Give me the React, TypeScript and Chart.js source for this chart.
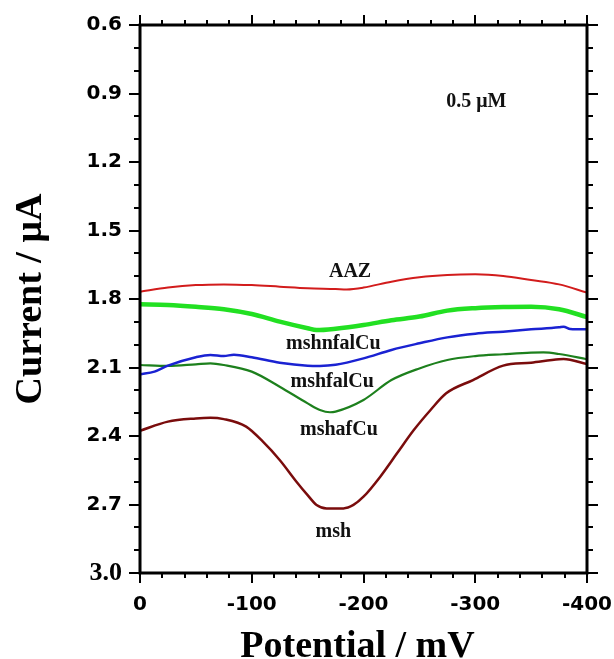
import React, { useEffect, useRef } from "react";
import { Chart, registerables } from "chart.js";

Chart.register(...registerables);

// Axis ticks (potential in mV, current in µA)
const potentialTicks = [0, -100, -200, -300, -400];
const currentTicks = [0.6, 0.9, 1.2, 1.5, 1.8, 2.1, 2.4, 2.7, 3.0];
const potentialMinorStep = 20;
const currentMinorStep = 0.1;

// AAZ
const aazPotential = [0, -25, -50, -75, -100, -125, -150, -175, -185, -200, -225, -250, -275, -300, -325, -350, -375, -400];
const aazCurrent = [1.768, 1.75, 1.739, 1.736, 1.739, 1.746, 1.753, 1.756, 1.758, 1.75, 1.724, 1.705, 1.695, 1.692, 1.699, 1.717, 1.736, 1.772];

// mshnfalCu
const mshnfalCuPotential = [0, -25, -50, -75, -100, -125, -150, -158, -175, -200, -225, -250, -275, -300, -325, -350, -375, -400];
const mshnfalCuCurrent = [1.823, 1.826, 1.834, 1.845, 1.866, 1.899, 1.928, 1.936, 1.93, 1.914, 1.893, 1.877, 1.851, 1.84, 1.835, 1.834, 1.845, 1.879];

// mshfalCu
const mshfalCuPotential = [0, -13, -25, -50, -63, -75, -84, -100, -125, -150, -161, -175, -200, -225, -250, -275, -300, -325, -350, -375, -379, -385, -400];
const mshfalCuCurrent = [2.13, 2.118, 2.092, 2.055, 2.045, 2.05, 2.044, 2.055, 2.079, 2.092, 2.093, 2.088, 2.06, 2.023, 1.994, 1.968, 1.952, 1.943, 1.933, 1.924, 1.921, 1.931, 1.933];

// mshafCu
const mshafCuPotential = [0, -25, -50, -63, -75, -100, -125, -150, -161, -170, -175, -200, -225, -250, -275, -300, -325, -350, -361, -375, -400];
const mshafCuCurrent = [2.089, 2.093, 2.086, 2.082, 2.089, 2.118, 2.184, 2.257, 2.286, 2.296, 2.293, 2.242, 2.155, 2.104, 2.067, 2.05, 2.042, 2.035, 2.034, 2.041, 2.064];

// msh
const mshPotential = [0, -25, -50, -63, -75, -95, -110, -125, -140, -150, -158, -167, -182, -191, -200, -215, -230, -245, -260, -274, -298, -325, -350, -375, -379, -400];
const mshCurrent = [2.377, 2.337, 2.323, 2.32, 2.326, 2.359, 2.425, 2.505, 2.6, 2.659, 2.702, 2.717, 2.717, 2.702, 2.666, 2.578, 2.476, 2.374, 2.286, 2.213, 2.155, 2.092, 2.079, 2.064, 2.063, 2.085];

// Curve labels placed beside the curves (baseline position in data units)
const curveLabels = ["AAZ", "mshnfalCu", "mshfalCu", "mshafCu", "msh", "0.5 μM"];
const curveLabelPotential = [-188, -173, -172, -178, -173, -301];
const curveLabelCurrent = [1.704, 2.019, 2.186, 2.396, 2.843, 0.959];

const xTitle = "Potential / mV";
const yTitle = "Current / μA";

const toPoints = (xs: number[], ys: number[]) => xs.map((x, i) => ({ x, y: ys[i] }));

const SERIF = "'Liberation Serif', 'Times New Roman', serif";
const SANS = "'DejaVu Sans', sans-serif";

const framePlugin = {
  id: "frameAndText",
  afterDraw(chart: any) {
    const { ctx, chartArea: a, scales } = chart;
    const xs = scales.x;
    const ys = scales.y;
    ctx.save();
    ctx.strokeStyle = "#000";
    ctx.lineCap = "butt";

    // minor and major tick marks, outward on all four sides
    ctx.lineWidth = 2;
    for (let v = 0; v >= -400; v -= potentialMinorStep) {
      const px = Math.round(xs.getPixelForValue(v));
      const major = potentialTicks.includes(v);
      const len = major ? 10 : 5;
      ctx.beginPath();
      ctx.moveTo(px, a.top);
      ctx.lineTo(px, a.top - len);
      ctx.moveTo(px, a.bottom);
      ctx.lineTo(px, a.bottom + len);
      ctx.stroke();
    }
    for (let k = 0; k <= 24; k++) {
      const v = 0.6 + k * currentMinorStep;
      const py = Math.round(ys.getPixelForValue(v));
      const major = k % 3 === 0;
      const len = major ? 11 : 6;
      ctx.beginPath();
      ctx.moveTo(a.left, py);
      ctx.lineTo(a.left - len, py);
      ctx.moveTo(a.right, py);
      ctx.lineTo(a.right + len, py);
      ctx.stroke();
    }

    // frame
    ctx.lineWidth = 3;
    ctx.strokeRect(a.left, a.top, a.right - a.left, a.bottom - a.top);

    // curve labels
    ctx.fillStyle = "#111";
    ctx.font = `bold 20px ${SERIF}`;
    ctx.textAlign = "center";
    ctx.textBaseline = "alphabetic";
    curveLabels.forEach((t, i) => {
      ctx.fillText(t, xs.getPixelForValue(curveLabelPotential[i]), ys.getPixelForValue(curveLabelCurrent[i]));
    });

    // axis titles
    ctx.fillStyle = "#000";
    ctx.font = `bold 38px ${SERIF}`;
    ctx.fillText(xTitle, (a.left + a.right) / 2 - 6, a.bottom + 84);
    ctx.translate(41, (a.top + a.bottom) / 2);
    ctx.rotate(-Math.PI / 2);
    ctx.fillText(yTitle, 0, 0);
    ctx.restore();
  },
};

export default function App() {
  const ref = useRef<HTMLCanvasElement | null>(null);

  useEffect(() => {
    document.body.style.margin = "0";
    const canvas = ref.current;
    if (!canvas) return;
    const chart = new Chart(canvas, {
      type: "line",
      data: {
        datasets: [
          { label: "AAZ", data: toPoints(aazPotential, aazCurrent), borderColor: "#d21c1c", borderWidth: 2 },
          { label: "mshnfalCu", data: toPoints(mshnfalCuPotential, mshnfalCuCurrent), borderColor: "#22e022", borderWidth: 4.5 },
          { label: "mshfalCu", data: toPoints(mshfalCuPotential, mshfalCuCurrent), borderColor: "#1a22d2", borderWidth: 2.5 },
          { label: "mshafCu", data: toPoints(mshafCuPotential, mshafCuCurrent), borderColor: "#1d801d", borderWidth: 2.2 },
          { label: "msh", data: toPoints(mshPotential, mshCurrent), borderColor: "#7a0c0c", borderWidth: 2.5 },
        ].map((d) => ({ ...d, pointRadius: 0, cubicInterpolationMode: "monotone", fill: false })),
      },
      options: {
        responsive: false,
        animation: false,
        events: [],
        layout: { padding: { left: 0, right: 27, top: 25, bottom: 0 } },
        plugins: { legend: { display: false }, tooltip: { enabled: false } },
        scales: {
          x: {
            type: "linear",
            min: -400,
            max: 0,
            reverse: true,
            grid: { display: false },
            border: { display: false },
            afterBuildTicks: (s: any) => {
              s.ticks = potentialTicks.map((value) => ({ value }));
            },
            afterFit: (s: any) => {
              s.height = 86;
              s.paddingLeft = 0;
              s.paddingRight = 0;
            },
            ticks: {
              color: "#000",
              padding: 12,
              maxRotation: 0,
              autoSkip: false,
              font: { family: SANS, size: 20, weight: "bold" },
              callback: (v: any) => String(v),
            },
          },
          y: {
            type: "linear",
            min: 0.6,
            max: 3.0,
            reverse: true,
            grid: { display: false },
            border: { display: false },
            afterBuildTicks: (s: any) => {
              s.ticks = currentTicks.map((value) => ({ value }));
            },
            afterFit: (s: any) => {
              s.width = 140;
              s.paddingTop = 0;
              s.paddingBottom = 0;
            },
            ticks: {
              color: "#000",
              padding: 10,
              autoSkip: false,
              font: (c: any) =>
                c.tick && Math.abs(c.tick.value - 3.0) < 1e-9
                  ? { family: SERIF, size: 26, weight: "bold" }
                  : { family: SANS, size: 20, weight: "bold" },
              callback: (v: any) => Number(v).toFixed(1),
            },
          },
        },
      },
      plugins: [framePlugin],
    });
    return () => chart.destroy();
  }, []);

  return (
    <div style={{ width: 614, height: 659, background: "#fff" }}>
      <canvas ref={ref} width={614} height={659} style={{ display: "block" }} />
    </div>
  );
}
